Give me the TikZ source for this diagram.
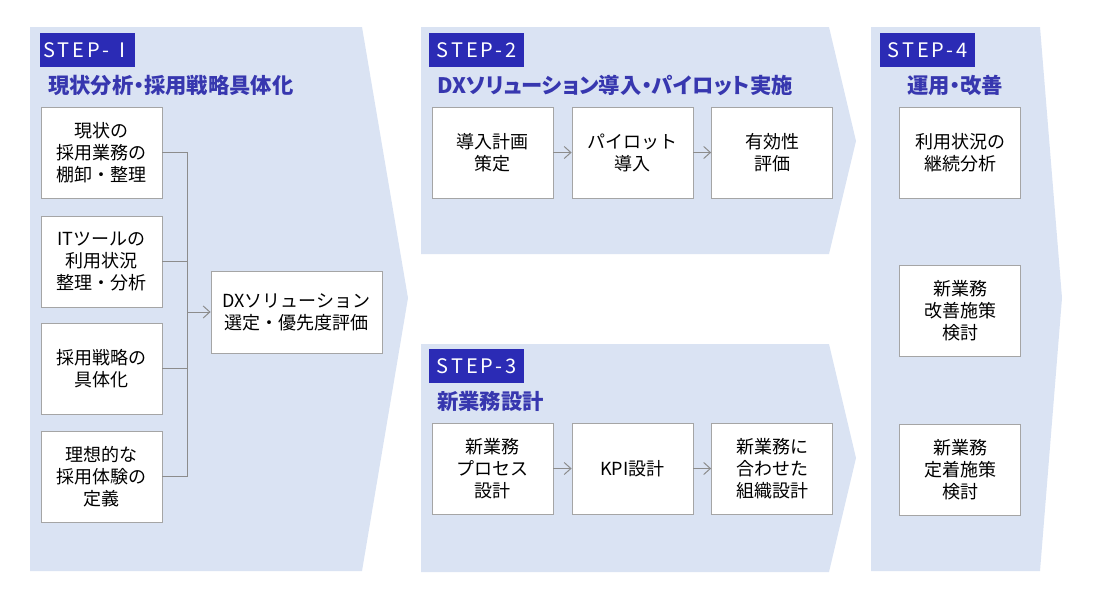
\documentclass[tikz,border=0pt]{standalone}
\usepackage{fontspec}
\setmainfont{Noto Sans CJK JP}
\newfontfamily\stepfont[LetterSpace=15]{Noto Sans CJK JP}
\newfontfamily\titlefont[RawFeature=+palt]{Noto Sans CJK JP}
\usepackage{tikz}
\usetikzlibrary{arrows.meta}
\definecolor{panelblue}{RGB}{218,227,243}
\definecolor{stepblue}{RGB}{43,43,181}
\definecolor{titleblue}{RGB}{55,55,175}
\definecolor{boxgray}{RGB}{165,165,165}
\definecolor{linegray}{RGB}{140,140,140}
\tikzstyle{panel} = [fill=panelblue, draw=none]
\tikzstyle{steplabel} = [anchor=north west, fill=stepblue, text=white, minimum width=71.25pt, minimum height=25.5pt, inner sep=0pt, font=\stepfont\fontsize{15}{16}\selectfont]
\tikzstyle{steptitle} = [anchor=west, inner sep=0pt, text=titleblue, font=\titlefont\fontsize{16}{18}\selectfont\bfseries]
\tikzstyle{stepbox} = [draw=boxgray, fill=white, line width=0.6pt, minimum width=90.75pt, minimum height=68.25pt, inner sep=0pt, align=center, font=\fontsize{13.5}{16.5}\selectfont]
\tikzstyle{conn} = [linegray, line width=0.75pt]
\tikzstyle{arrow} = [conn, -{Straight Barb[length=5pt,width=9pt]}]

\begin{document}
\begin{tikzpicture}[x=0.75pt, y=-0.75pt]
\useasboundingbox (0,0) rectangle (1120,600);

% Step panels
\fill[panel] (30,27) -- (362,27) -- (408,298) -- (362,571) -- (30,571) -- cycle;
\fill[panel] (421,27) -- (829,27) -- (856,141) -- (829,254) -- (421,254) -- cycle;
\fill[panel] (421,344) -- (829,344) -- (856,458) -- (829,572) -- (421,572) -- cycle;
\fill[panel] (871,27) -- (1040,27) -- (1062,298) -- (1040,571) -- (871,571) -- cycle;

% Step labels
\node[steplabel] (s1) at (40,33) {STEP-Ⅰ};
\node[steplabel] (s2) at (429,33) {STEP-2};
\node[steplabel] (s3) at (429,349) {STEP-3};
\node[steplabel] (s4) at (880,33) {STEP-4};

% Titles
\node[steptitle] (t1) at (48,85) {現状分析・採用戦略具体化};
\node[steptitle] (t2) at (437,85) {DXソリューション導入・パイロット実施};
\node[steptitle] (t3) at (437,401) {新業務設計};
\node[steptitle, anchor=center] (t4) at (955,85) {運用・改善};

% Step 1
\node[stepbox] (a1) at (101.5,152.5) {現状の\\採用業務の\\棚卸・整理};
\node[stepbox] (a2) at (101.5,261.5) {ITツールの\\利用状況\\整理・分析};
\node[stepbox] (a3) at (101.5,368.5) {採用戦略の\\具体化};
\node[stepbox] (a4) at (101.5,476.5) {理想的な\\採用体験の\\定義};
\node[stepbox, minimum width=128.25pt, minimum height=61.5pt] (dx) at (296.5,312) {DXソリューション\\選定・優先度評価};
\coordinate (bus) at (187,312);
\foreach \b in {a1,a2,a3,a4} {
    \draw[conn] (\b.east) -| (bus);
}
\draw[arrow] (bus) -- (dx.west);

% Step 2
\node[stepbox] (b1) at (492.5,152.5) {導入計画\\策定};
\node[stepbox] (b2) at (632.5,152.5) {パイロット\\導入};
\node[stepbox] (b3) at (772,152.5) {有効性\\評価};
\draw[arrow] (b1) -- (b2);
\draw[arrow] (b2) -- (b3);

% Step 3
\node[stepbox] (c1) at (492.5,468.5) {新業務\\プロセス\\設計};
\node[stepbox] (c2) at (632.5,468.5) {KPI設計};
\node[stepbox] (c3) at (772,468.5) {新業務に\\合わせた\\組織設計};
\draw[arrow] (c1) -- (c2);
\draw[arrow] (c2) -- (c3);

% Step 4
\node[stepbox] (d1) at (960,152.5) {利用状況の\\継続分析};
\node[stepbox] (d2) at (960,310.5) {新業務\\改善施策\\検討};
\node[stepbox] (d3) at (960,469.5) {新業務\\定着施策\\検討};
\end{tikzpicture}
\end{document}
